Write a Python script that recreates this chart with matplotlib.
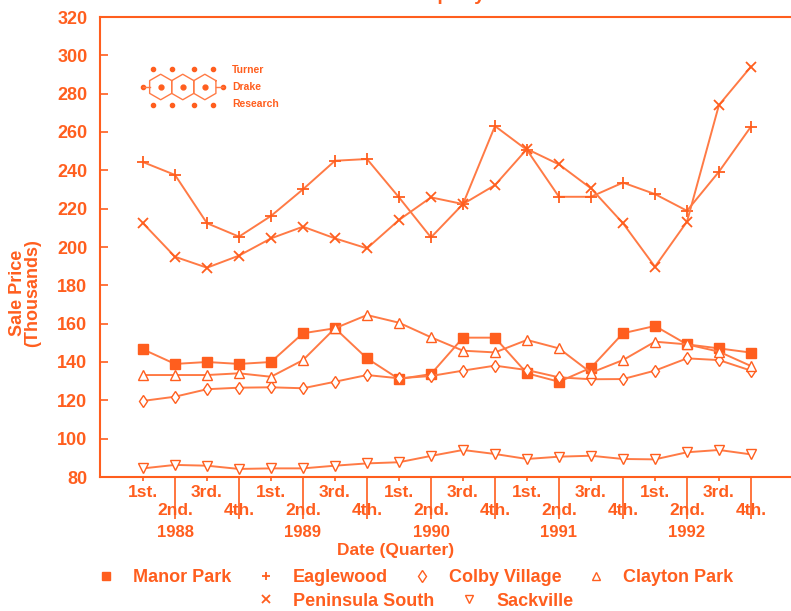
import numpy as np
import matplotlib.pyplot as plt
from matplotlib.lines import Line2D
from matplotlib.transforms import blended_transform_factory

ORANGE = '#FF5E1E'
LINE = '#FF7A45'
plt.rcParams['font.family'] = ['Liberation Sans', 'DejaVu Sans']
plt.rcParams['font.weight'] = 'bold'

quarters = ['1st.', '2nd.', '3rd.', '4th.'] * 5
years = ['1988', '1989', '1990', '1991', '1992']
yticks = list(range(80, 321, 20))

manor_park = [146.6, 139.0, 140.0, 139.0, 140.0, 155.0, 157.6, 141.9, 131.1, 133.7,
              152.7, 152.7, 134.1, 129.7, 137.0, 155.0, 158.8, 149.2, 147.1, 144.9]
eaglewood = [244.3, 237.6, 212.4, 205.4, 216.2, 230.1, 245.0, 245.9, 225.9, 205.0,
             222.4, 263.1, 250.6, 226.2, 226.2, 233.6, 227.6, 218.9, 239.3, 262.8]
colby_village = [119.7, 121.9, 125.8, 126.6, 126.8, 126.3, 129.7, 133.2, 131.5, 132.7,
                 135.5, 138.1, 135.8, 132.0, 131.0, 131.1, 135.5, 141.9, 141.0, 135.5]
clayton_park = [133.2, 133.2, 133.2, 134.1, 132.3, 141.0, 157.6, 164.5, 160.5, 152.9,
                145.9, 145.0, 151.5, 147.1, 134.4, 141.0, 150.6, 149.2, 145.4, 137.9]
peninsula_south = [212.4, 194.9, 189.2, 195.5, 204.5, 210.6, 204.5, 199.3, 214.1, 225.9,
                   222.4, 232.3, 251.1, 243.1, 230.6, 212.4, 189.7, 213.2, 274.1, 294.1]
sackville = [84.5, 86.3, 85.9, 84.2, 84.5, 84.5, 85.9, 87.1, 87.7, 91.0,
             94.1, 92.0, 89.4, 90.6, 91.1, 89.4, 89.2, 92.9, 94.1, 91.8]

series = [
    ('Manor Park', manor_park, dict(marker='s', ms=6.5, mfc=ORANGE)),
    ('Eaglewood', eaglewood, dict(marker='+', ms=8, mew=1.3)),
    ('Colby Village', colby_village, dict(marker='d', ms=6, mfc='white')),
    ('Clayton Park', clayton_park, dict(marker='^', ms=6.5, mfc='white')),
    ('Peninsula South', peninsula_south, dict(marker='x', ms=6.5, mew=1.3)),
    ('Sackville', sackville, dict(marker='v', ms=6.5, mfc='white')),
]

fig = plt.figure(figsize=(7.91, 6.11), dpi=100)
ax = fig.add_axes([100 / 791, 1 - 477 / 611, 690 / 791, 460 / 611])
x = np.arange(len(quarters))

for name, vals, style in series:
    ax.plot(x, vals, color=LINE, lw=1.4, mec=ORANGE, **style)

ax.set_xlim(-1.344, 20.22)
ax.set_ylim(80, 320)
ax.set_yticks(yticks)
ax.tick_params(axis='y', direction='in', length=6, width=1.2, color=ORANGE,
               labelcolor=ORANGE, labelsize=13, pad=9)
ax.set_xticks(x[1::2])
ax.set_xticklabels([])
ax.set_xticks(x[0::2], minor=True)
ax.tick_params(axis='x', which='major', direction='out', length=30, width=1.2, color=ORANGE)
ax.tick_params(axis='x', which='minor', direction='out', length=3, width=1.2, color=ORANGE)
for s in ['left', 'bottom', 'top']:
    ax.spines[s].set_color(ORANGE)
    ax.spines[s].set_linewidth(1.5)
ax.spines['right'].set_visible(False)

tr = blended_transform_factory(ax.transData, ax.transAxes)
for i, q in enumerate(quarters):
    yy = -0.033 if i % 2 == 0 else -0.072
    ax.text(i, yy, q, transform=tr, ha='center', va='center', color=ORANGE, fontsize=12.5)
for k, yr in enumerate(years):
    ax.text(4 * k + 1, -0.12, yr, transform=tr, ha='center', va='center',
            color=ORANGE, fontsize=12)
ax.text(0.5, 1 - 551 / 611, 'Date (Quarter)', transform=fig.transFigure, ha='center',
        va='center', color=ORANGE, fontsize=12.5)
fig.text(25 / 791, 0.5 + 0.02, 'Sale Price\n(Thousands)', rotation=90, ha='center',
         va='center', color=ORANGE, fontsize=13, linespacing=0.85)
fig.text(405 / 791, 1.0, 'Property Sales', ha='left', va='baseline', color=ORANGE, fontsize=14)

# logo
lax = fig.add_axes([139 / 791, 1 - 117 / 611, 88 / 791, 60 / 611])
lax.set_aspect('equal')
lax.axis('off')
r = 1.0
ang = np.radians(np.arange(30, 391, 60))
for cx in [0, np.sqrt(3) * r, 2 * np.sqrt(3) * r]:
    lax.plot(cx + r * np.cos(ang), r * np.sin(ang), color=LINE, lw=1.0)
    lax.plot([cx], [0], 'o', color=ORANGE, ms=3.5)
for px, py in [(-0.6, 1.4), (0.87, 1.45), (2.6, 1.45), (4.1, 1.4),
               (-1.4, 0), (4.9, 0),
               (-0.6, -1.4), (0.87, -1.45), (2.6, -1.45), (4.1, -1.4)]:
    lax.plot([px], [py], 'o', color=ORANGE, ms=3)
lax.plot([-1.4, -0.87], [0, 0], color=LINE, lw=1.0)
lax.plot([2 * np.sqrt(3) + 0.87, 4.9], [0, 0], color=LINE, lw=1.0)
lax.set_xlim(-1.7, 5.2)
lax.set_ylim(-2.3, 2.3)
fig.text(232 / 791, 1 - 70 / 611, 'Turner', color=ORANGE, fontsize=7.5, va='center')
fig.text(232 / 791, 1 - 87 / 611, 'Drake', color=ORANGE, fontsize=7.5, va='center')
fig.text(232 / 791, 1 - 104 / 611, 'Research', color=ORANGE, fontsize=7.5, va='center')

# legend in two rows
handles = [Line2D([], [], color=ORANGE, ls='none', mec=ORANGE, label=name,
                  **{k: v for k, v in style.items() if k != 'ms'}, ms=6)
           for name, vals, style in series]
leg1 = fig.legend(handles=handles[:4], loc='center', bbox_to_anchor=(0.525, 1 - 578 / 611),
                  ncol=4, frameon=False, fontsize=13, handlelength=1, handletextpad=1.0,
                  columnspacing=1.4, borderpad=0, labelcolor=ORANGE)
leg2 = fig.legend(handles=handles[4:], loc='center', bbox_to_anchor=(0.525, 1 - 601 / 611),
                  ncol=2, frameon=False, fontsize=13, handlelength=1, handletextpad=1.0,
                  columnspacing=1.4, borderpad=0, labelcolor=ORANGE)

fig.savefig('out.png', dpi=100)
